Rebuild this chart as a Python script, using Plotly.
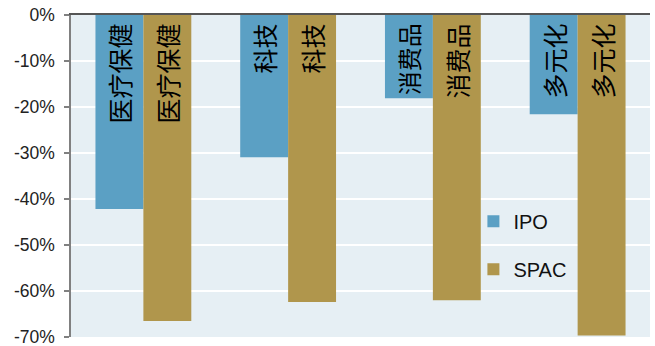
import plotly.graph_objects as go

# Sector returns (%) for IPO vs SPAC listings
sectors = ["医疗保健", "科技", "消费品", "多元化"]
ipo_returns = [-42.2, -30.9, -18.1, -21.6]
spac_returns = [-66.5, -62.4, -62.0, -69.7]

tick_vals = [0, -10, -20, -30, -40, -50, -60, -70]
tick_text = ["0%", "-10%", "-20%", "-30%", "-40%", "-50%", "-60%", "-70%"]

IPO_COLOR = "#5ba0c4"
SPAC_COLOR = "#b0964c"
CJK = "Noto Sans CJK SC"
LATIN = "Liberation Sans, Arial, sans-serif"

# trailing non-breaking space keeps the rotated label a little below the baseline
bar_labels = [s + "\u00a0" for s in sectors]

fig = go.Figure()
fig.add_trace(go.Bar(
    name="IPO", x=sectors, y=ipo_returns, marker_color=IPO_COLOR,
    marker_line_width=0,
    text=bar_labels, textposition="inside", insidetextanchor="start",
    textangle=-90, textfont=dict(family=CJK, size=25, color="black"),
    legendgroup="ipo", cliponaxis=False,
))
fig.add_trace(go.Bar(
    name="SPAC", x=sectors, y=spac_returns, marker_color=SPAC_COLOR,
    marker_line_width=0,
    text=bar_labels, textposition="inside", insidetextanchor="start",
    textangle=-90, textfont=dict(family=CJK, size=25, color="black"),
    legendgroup="spac", cliponaxis=False,
))

fig.update_layout(
    width=655, height=346,
    margin=dict(l=70.5, r=4.5, t=15, b=9),
    paper_bgcolor="white",
    plot_bgcolor="#e6eff4",
    barmode="group", bargap=0.338, bargroupgap=0,
    font=dict(family=LATIN, size=17.5, color="#222"),
    showlegend=True,
    legend=dict(
        x=0.695, y=0.42, xanchor="left", yanchor="top",
        bgcolor="rgba(0,0,0,0)", font=dict(family=LATIN, size=20, color="#111"),
        traceorder="grouped", tracegroupgap=19, itemwidth=30,
    ),
)
fig.update_xaxes(
    side="top", showticklabels=False, ticks="",
    showline=True, linecolor="#555555", linewidth=2,
    showgrid=False, zeroline=False, automargin=False,
)
fig.update_yaxes(
    range=[-70, 0], tickvals=tick_vals, ticktext=tick_text,
    ticks="outside", ticklen=5, tickcolor="#808080", tickwidth=1.5,
    ticklabelstandoff=6, ticklabeloverflow="allow", automargin=False,
    showline=True, linecolor="#808080", linewidth=1.5,
    showgrid=True, gridcolor="white", gridwidth=1.5, zeroline=False,
    tickfont=dict(family=LATIN, size=17.5, color="#222"),
)

fig.write_html("out.html")
